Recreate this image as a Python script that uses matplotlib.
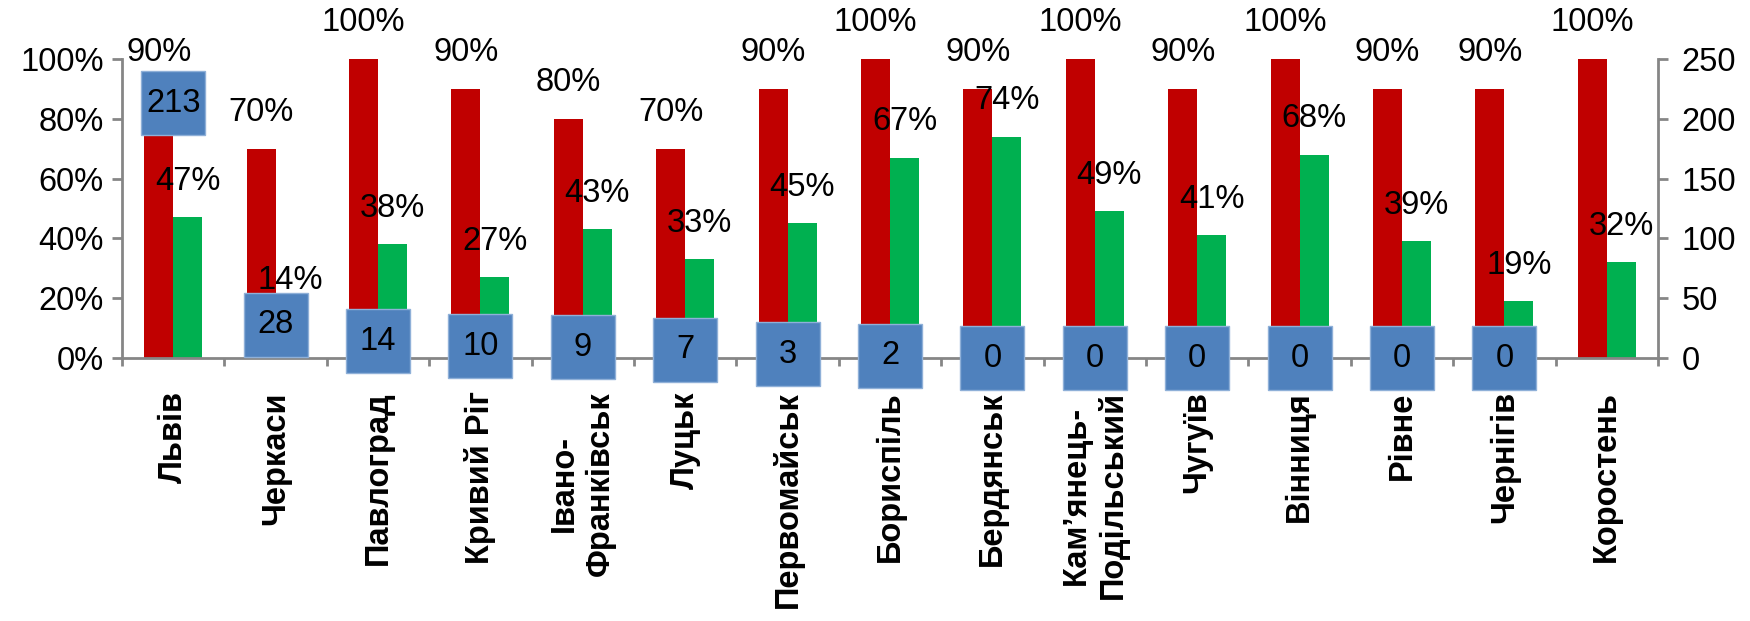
import numpy as np
import matplotlib
matplotlib.use("Agg")
import matplotlib.pyplot as plt

# Data
cities = ["Львів", "Черкаси", "Павлоград", "Кривий Ріг", "Івано-\nФранківськ",
          "Луцьк", "Первомайськ", "Бориспіль", "Бердянськ",
          "Кам’янець-\nПодільський", "Чугуїв", "Вінниця", "Рівне", "Чернігів",
          "Коростень"]
red_pct = [90, 70, 100, 90, 80, 70, 90, 100, 90, 100, 90, 100, 90, 90, 100]
green_pct = [47, 14, 38, 27, 43, 33, 45, 67, 74, 49, 41, 68, 39, 19, 32]
counts = [213, 28, 14, 10, 9, 7, 3, 2, 0, 0, 0, 0, 0, 0, np.nan]

RED = "#C00000"
GREEN = "#00B050"
BLUE = "#4F81BD"
GRAY = "#868686"
FS = 23.5

plt.rcParams["font.family"] = ["Liberation Sans", "DejaVu Sans"]

fig = plt.figure(figsize=(17.5, 6.21), dpi=100)
ax = fig.add_axes([0.0697, 0.4235, 0.8777, 0.4815])

x = np.arange(len(cities))
w = 0.283
ax.bar(x - w / 2, red_pct, width=w, color=RED, zorder=2)
ax.bar(x + w / 2, green_pct, width=w, color=GREEN, zorder=2)

for xi, r, g in zip(x, red_pct, green_pct):
    ax.annotate(f"{r}%", (xi - w / 2, r), xytext=(0, 26), textcoords="offset points",
                ha="center", va="center", fontsize=FS, zorder=5)
    ax.annotate(f"{g}%", (xi + w / 2, g), xytext=(0, 26), textcoords="offset points",
                ha="center", va="center", fontsize=FS, zorder=5)

ax.set_xlim(-0.5, len(cities) - 0.5)
ax.set_ylim(0, 100)
ax.set_yticks(range(0, 101, 20))
ax.set_yticklabels([f"{v}%" for v in range(0, 101, 20)])

ax.set_xticks(np.arange(-0.5, len(cities), 1.0))
ax.set_xticklabels([])
ax.set_xticks(x, minor=True)
ax.set_xticklabels(cities, minor=True, rotation=90, fontweight="bold",
                   fontsize=23.5, va="top", ha="center", multialignment="center")
ax.tick_params(axis="x", which="minor", length=0, pad=24)
ax.tick_params(axis="x", which="major", length=6, width=2, color=GRAY, direction="out")
ax.tick_params(axis="y", length=7, width=2, color=GRAY, labelsize=FS, pad=6)

for s in ["top", "right"]:
    ax.spines[s].set_visible(False)
for s in ["left", "bottom"]:
    ax.spines[s].set_color(GRAY)
    ax.spines[s].set_linewidth(2)

ax2 = ax.twinx()
ax2.plot(x, counts, linestyle="none", marker="s", markersize=46.5,
         markerfacecolor=BLUE, markeredgecolor="#8FB0D8", markeredgewidth=1,
         zorder=3, clip_on=False)
for xi, c in zip(x, counts):
    if not np.isnan(c):
        ax2.text(xi, c, f"{int(c)}", ha="center", va="center", fontsize=FS, zorder=6)
ax2.set_ylim(0, 250)
ax2.set_yticks(range(0, 251, 50))
ax2.tick_params(axis="y", length=7, width=2, color=GRAY, labelsize=FS, pad=10)
for s in ["top", "left", "bottom"]:
    ax2.spines[s].set_visible(False)
ax2.spines["right"].set_color(GRAY)
ax2.spines["right"].set_linewidth(2)

fig.savefig("out.png", dpi=100)
